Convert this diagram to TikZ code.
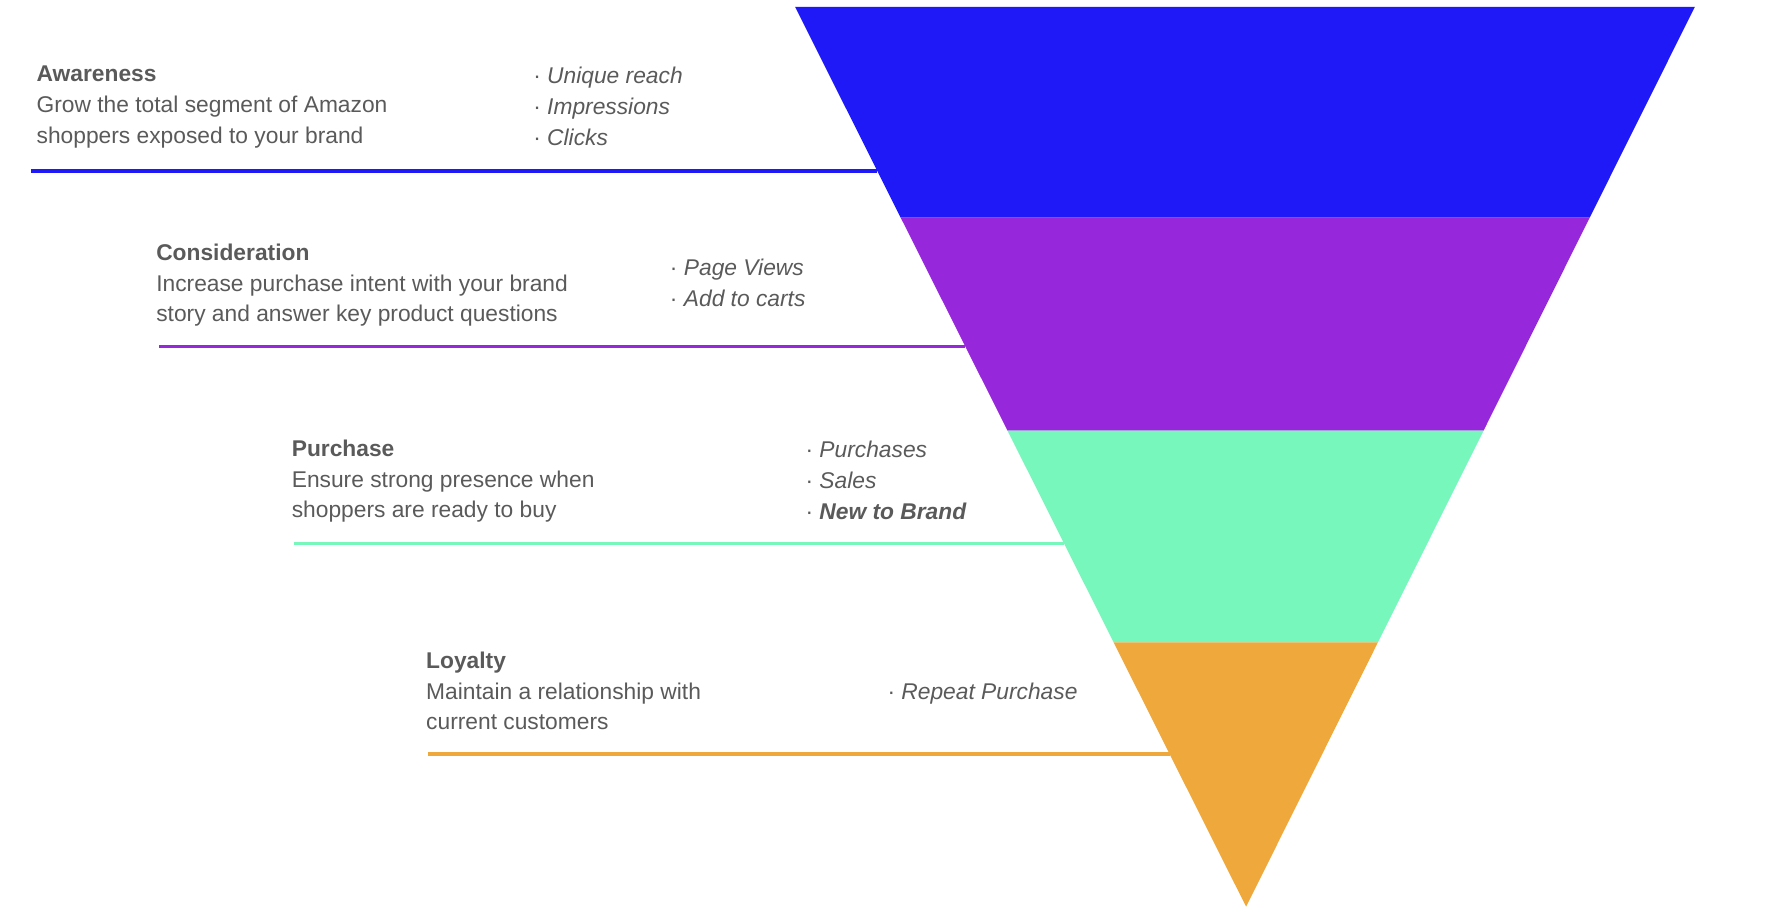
\documentclass[tikz,border=0pt]{standalone}
\usepackage{fontspec}
\setmainfont{Liberation Sans}
\definecolor{cblue}{HTML}{2019F7}
\definecolor{cpurple}{HTML}{9627DB}
\definecolor{cgreen}{HTML}{77F7BC}
\definecolor{corange}{HTML}{EFA83C}
\definecolor{tgray}{HTML}{5A5A5A}
\tikzset{txt/.style={anchor=north west,inner sep=0pt,align=left,text=tgray,font=\fontsize{20}{27}\selectfont},
ln/.style={line width=3pt}}
\begin{document}
\begin{tikzpicture}[x=1pt,y=-1pt]
\useasboundingbox (0,0) rectangle (1568,802);
% funnel bands
\fill[cblue] (698,6) -- (1488,6) -- (1395.7,191) -- (790.7,191) -- cycle;
\fill[cpurple] (790.7,191) -- (1395.7,191) -- (1302.5,378) -- (884.5,378) -- cycle;
\fill[cgreen] (884.5,378) -- (1302.5,378) -- (1209.7,564) -- (977.7,564) -- cycle;
\fill[corange] (977.7,564) -- (1209.7,564) -- (1094,796) -- cycle;
% lines
\coordinate (a1) at (27,150); \coordinate (a2) at (770,150);
\coordinate (b1) at (140,304); \coordinate (b2) at (847,304);
\coordinate (c1) at (258,477); \coordinate (c2) at (934,477);
\coordinate (d1) at (376,662); \coordinate (d2) at (1027,662);
\draw[ln,cblue] (a1) -- (a2);
\draw[ln,cpurple] (b1) -- (b2);
\draw[ln,cgreen] (c1) -- (c2);
\draw[ln,corange] (d1) -- (d2);
% texts
\node[txt] (aw) at (32,58) {\textbf{Awareness}\\Grow the total segment of Amazon\\shoppers exposed to your brand};
\node[txt] (awb) at (468,59) {· \textit{Unique reach}\\· \textit{Impressions}\\· \textit{Clicks}};
\node[txt] (co) at (137,214) {\textbf{Consideration}\\Increase purchase intent with your brand\\story and answer key product questions};
\node[txt] (cob) at (588,227) {· \textit{Page Views}\\· \textit{Add to carts}};
\node[txt] (pu) at (256,386) {\textbf{Purchase}\\Ensure strong presence when\\shoppers are ready to buy};
\node[txt] (pub) at (707,387) {· \textit{Purchases}\\· \textit{Sales}\\· \textbf{\textit{New to Brand}}};
\node[txt] (lo) at (374,572) {\textbf{Loyalty}\\Maintain a relationship with\\current customers};
\node[txt] (lob) at (779,599) {· \textit{Repeat Purchase}};
\end{tikzpicture}
\end{document}
